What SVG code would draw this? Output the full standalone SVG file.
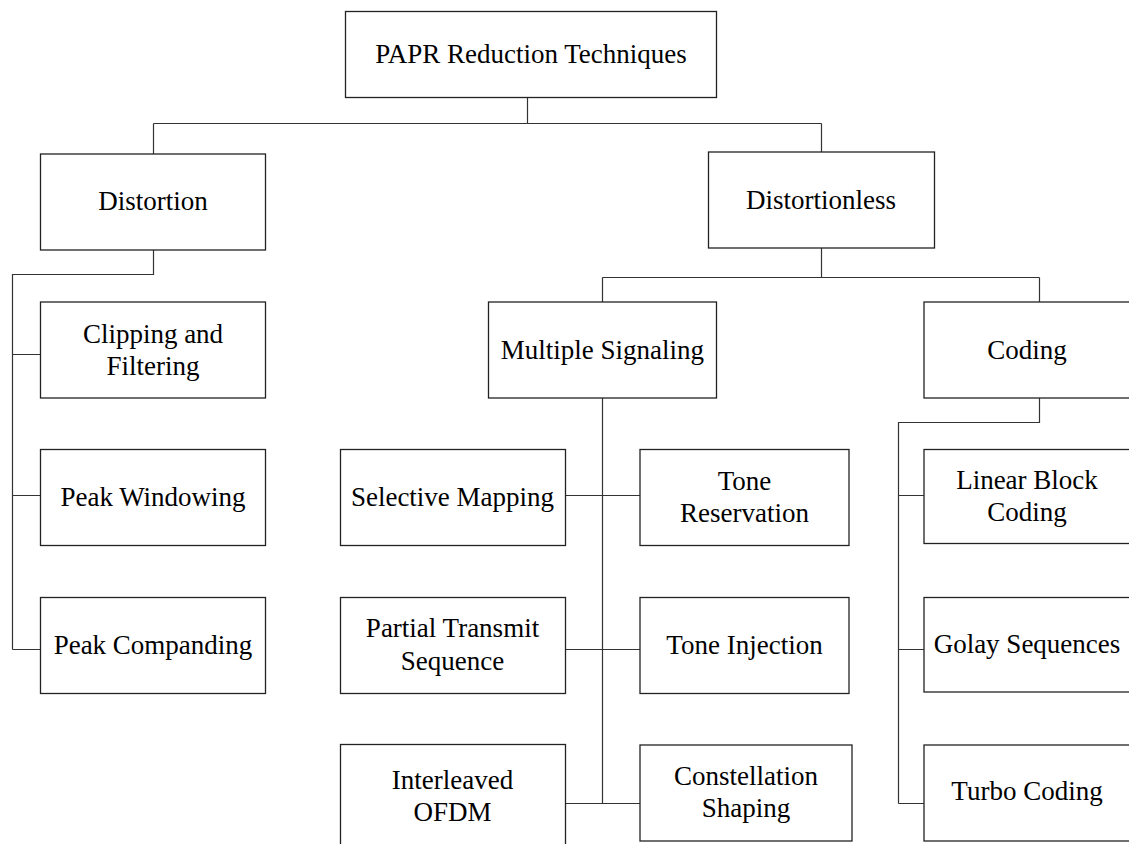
<svg xmlns="http://www.w3.org/2000/svg" width="1129" height="844" viewBox="0 0 1129 844">
  <style>
    .box { fill: #ffffff; stroke: #222222; stroke-width: 1.3; }
    .lbl { font-family: "Liberation Serif", "Times New Roman", serif; font-size: 27px; fill: #000000; text-anchor: middle; }
    .wire { fill: none; stroke: #333333; stroke-width: 1.2; }
  </style>
  <rect width="1129" height="844" fill="#ffffff"/>

  <!-- tree connectors -->
  <g id="connectors">
    <path class="wire" d="M527.5,97 V123.5 M153.5,123.5 H821.5 M153.5,123.5 V154 M821.5,123.5 V152"/>
    <path class="wire" d="M153.5,250 V274.5 H12.5 V649.5 M12.5,354.5 H40 M12.5,495.5 H40 M12.5,649.5 H40"/>
    <path class="wire" d="M821.5,248 V277.5 M602.5,277.5 H1039.5 M602.5,277.5 V302 M1039.5,277.5 V302"/>
    <path class="wire" d="M602.5,398 V803.5 M565,495.5 H640 M565,649.5 H640 M565,803.5 H640"/>
    <path class="wire" d="M1039.5,398 V422.5 H898.5 V803.5 M898.5,495.5 H924 M898.5,649.5 H924 M898.5,803.5 H924"/>
  </g>

  <g id="root">
    <rect class="box" x="345.5" y="11.5" width="371" height="86"/>
    <text class="lbl" x="531" y="62.5">PAPR Reduction Techniques</text>
  </g>

  <g id="distortion">
    <rect class="box" x="40.5" y="154" width="225" height="96"/>
    <text class="lbl" x="153" y="210">Distortion</text>
  </g>
  <g id="distortionless">
    <rect class="box" x="708.5" y="152" width="226" height="96"/>
    <text class="lbl" x="821" y="208.5">Distortionless</text>
  </g>

  <g id="clipping">
    <rect class="box" x="40.5" y="302" width="225" height="96"/>
    <text class="lbl" x="153" y="342.5">Clipping and</text>
    <text class="lbl" x="153" y="375">Filtering</text>
  </g>
  <g id="peak-windowing">
    <rect class="box" x="40.5" y="449.5" width="225" height="96"/>
    <text class="lbl" x="153" y="505.5">Peak Windowing</text>
  </g>
  <g id="peak-companding">
    <rect class="box" x="40.5" y="597.5" width="225" height="96"/>
    <text class="lbl" x="153" y="653.5">Peak Companding</text>
  </g>

  <g id="multiple-signaling">
    <rect class="box" x="488.5" y="302" width="228" height="96"/>
    <text class="lbl" x="602.5" y="358.5">Multiple Signaling</text>
  </g>
  <g id="coding">
    <rect class="box" x="924" y="302" width="210" height="96"/>
    <text class="lbl" x="1027" y="358.5">Coding</text>
  </g>

  <g id="selective-mapping">
    <rect class="box" x="340.5" y="449.5" width="225" height="96"/>
    <text class="lbl" x="452.5" y="506">Selective Mapping</text>
  </g>
  <g id="tone-reservation">
    <rect class="box" x="640" y="449.5" width="209" height="96"/>
    <text class="lbl" x="744.5" y="489.5">Tone</text>
    <text class="lbl" x="744.5" y="521.5">Reservation</text>
  </g>
  <g id="partial-transmit">
    <rect class="box" x="340.5" y="597.5" width="225" height="96"/>
    <text class="lbl" x="452.5" y="637">Partial Transmit</text>
    <text class="lbl" x="452.5" y="669.5">Sequence</text>
  </g>
  <g id="tone-injection">
    <rect class="box" x="640" y="597.5" width="209" height="96"/>
    <text class="lbl" x="744.5" y="653.5">Tone Injection</text>
  </g>
  <g id="interleaved-ofdm">
    <rect class="box" x="340.5" y="744.5" width="225" height="106"/>
    <text class="lbl" x="452.5" y="788.5">Interleaved</text>
    <text class="lbl" x="452.5" y="820.5">OFDM</text>
  </g>
  <g id="constellation-shaping">
    <rect class="box" x="640" y="745" width="212" height="96"/>
    <text class="lbl" x="746" y="784.5">Constellation</text>
    <text class="lbl" x="746" y="817">Shaping</text>
  </g>

  <g id="linear-block">
    <rect class="box" x="924" y="449.5" width="210" height="94"/>
    <text class="lbl" x="1027" y="488.5">Linear Block</text>
    <text class="lbl" x="1027" y="520.5">Coding</text>
  </g>
  <g id="golay">
    <rect class="box" x="924" y="597.5" width="210" height="94.5"/>
    <text class="lbl" x="1027" y="652.5">Golay Sequences</text>
  </g>
  <g id="turbo">
    <rect class="box" x="924" y="745" width="210" height="96"/>
    <text class="lbl" x="1027" y="800">Turbo Coding</text>
  </g>
</svg>
